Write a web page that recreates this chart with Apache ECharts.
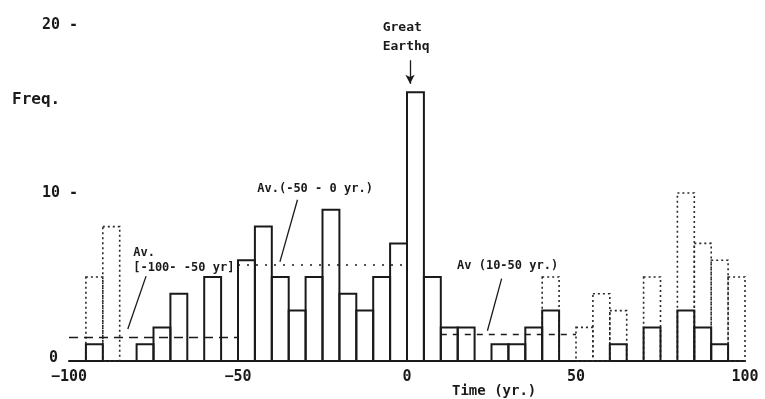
<!DOCTYPE html>
<html>
<head>
<meta charset="utf-8">
<script src="https://cdn.jsdelivr.net/npm/echarts@6/dist/echarts.min.js"></script>
<style>
html,body{margin:0;padding:0;background:#ffffff;}
#chart{width:765px;height:399px;}
</style>
</head>
<body>
<div id="chart"></div>
<script>
// Bin start (yr), each bin is 5 years wide
const binStart = [-100,-95,-90,-85,-80,-75,-70,-65,-60,-55,-50,-45,-40,-35,-30,-25,-20,-15,-10,-5,0,5,10,15,20,25,30,35,40,45,50,55,60,65,70,75,80,85,90,95];
// Solid histogram (frequency)
const solidFreq = [0,1,0,0,1,2,4,0,5,0,6,8,5,3,5,9,4,3,5,7,16,5,2,2,0,1,1,2,3,0,0,0,1,0,2,0,3,2,1,0];
// Dotted histogram (frequency), null = none drawn
const dottedFreq = [null,5,8,null,null,null,null,null,null,null,null,null,null,null,null,null,null,null,null,null,null,null,null,null,null,null,null,null,5,null,2,4,3,null,5,null,10,7,6,5];
// Average levels
const avgFrom = [-100,-50,10];
const avgTo = [-50,0,50];
const avgValue = [1.4,5.7,1.6];
const avgLabel = ['Av.\n[-100- -50 yr]','Av.(-50 - 0 yr.)','Av (10-50 yr.)'];
// x tick labels and y tick labels
const xTicks = [-100,-50,0,50,100];
const yTicks = [0,10,20];
const binWidth = 5;

const FONT = '"DejaVu Sans Mono", monospace';
const INK = '#1a1a1a';

function toData(arr){
  const out = [];
  arr.forEach((v,i)=>{ if(v !== null && v > 0) out.push([binStart[i], v]); });
  return out;
}

function barRender(style){
  return function(params, api){
    const x0 = api.value(0), v = api.value(1);
    const p0 = api.coord([x0, v]);
    const p1 = api.coord([x0 + binWidth, 0]);
    return {type:'rect', shape:{x:p0[0], y:p0[1], width:p1[0]-p0[0], height:p1[1]-p0[1]}, style: style};
  };
}

const avgStyles = [
  {type:[9,6], width:1.4},
  {type:[2,7], width:1.6},
  {type:[6,6], width:1.4}
];
const avgMark = avgValue.map((v,i)=>[
  {coord:[avgFrom[i], v], lineStyle:{type:avgStyles[i].type, width:avgStyles[i].width, color:INK}},
  {coord:[avgTo[i], v]}
]);

const leaderLines = [
  [{coord:[-77.2,5.05]},{coord:[-82.6,1.9]}],
  [{coord:[-32.4,9.6]},{coord:[-37.6,5.9]}],
  [{coord:[28.0,4.9]},{coord:[23.8,1.8]}]
];

const textPoints = [
  {value:[-81,6.0], name:avgLabel[0]},
  {value:[-44.3,10.25], name:avgLabel[1]},
  {value:[14.8,5.65], name:avgLabel[2]},
  {value:[-7.2,19.3], name:'Great\nEarthq', label:{fontSize:13, lineHeight:19}}
];

const chart = echarts.init(document.getElementById('chart'), null, {renderer:'canvas'});
chart.setOption({
  backgroundColor:'#ffffff',
  animation:false,
  grid:{left:69, right:20, top:25, bottom:38, containLabel:false},
  xAxis:{
    type:'value', min:-100, max:100, interval:50,
    axisLine:{show:true, onZero:false, lineStyle:{color:INK, width:2}},
    axisTick:{show:false},
    splitLine:{show:false},
    axisLabel:{
      margin:9, color:INK, fontFamily:FONT, fontSize:15, fontWeight:'bold',
      formatter:function(v){ return xTicks.indexOf(v) >= 0 ? (v < 0 ? '\u2212' + (-v) : String(v)) : ''; }
    }
  },
  yAxis:{
    type:'value', min:0, max:20, interval:10,
    axisLine:{show:false}, axisTick:{show:false}, splitLine:{show:false},
    axisLabel:{
      margin:-9, color:INK, fontFamily:FONT, fontSize:15, fontWeight:'bold',
      formatter:function(v){ return yTicks.indexOf(v) < 0 ? '' : (v === 0 ? '{z|0}' : v + ' -'); },
      rich:{z:{fontFamily:FONT, fontSize:15, fontWeight:'bold', color:INK, padding:[0,20,6,0]}}
    }
  },
  graphic:[
    {type:'text', left:12, top:92, style:{text:'Freq.', font:'bold 16px ' + FONT, fill:INK}},
    {type:'text', left:452, top:384, style:{text:'Time (yr.)', font:'bold 14px ' + FONT, fill:INK}}
  ],
  series:[
    {
      type:'custom', name:'dotted', clip:false, z:2,
      renderItem: barRender({fill:'none', stroke:'#2a2a2a', lineWidth:1.6, lineDash:[2,3]}),
      encode:{x:0, y:1},
      data: toData(dottedFreq)
    },
    {
      type:'custom', name:'solid', clip:false, z:3,
      renderItem: barRender({fill:'none', stroke:INK, lineWidth:2}),
      encode:{x:0, y:1},
      data: toData(solidFreq)
    },
    {
      type:'line', name:'lines', data:[], z:4,
      markLine:{
        silent:true, symbol:['none','none'], animation:false,
        label:{show:false},
        lineStyle:{color:INK, width:1.3, type:'solid'},
        data: avgMark.concat(leaderLines).concat([
          [{coord:[0.9,17.9]},{coord:[0.9,16.5], symbol:'arrow', symbolSize:[7,9]}]
        ])
      }
    },
    {
      type:'scatter', name:'text', symbolSize:0, z:5,
      data: textPoints,
      itemStyle:{color:INK, opacity:1},
      label:{
        show:true, position:[0,0], align:'left', verticalAlign:'middle',
        formatter:function(p){ return p.name; },
        fontFamily:FONT, fontSize:12, fontWeight:'bold', color:INK, lineHeight:15
      }
    }
  ]
});
</script>
</body>
</html>
